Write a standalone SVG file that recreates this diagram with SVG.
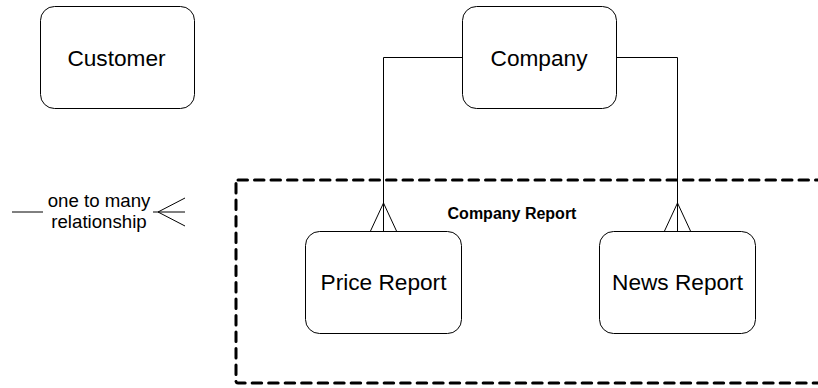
<svg xmlns="http://www.w3.org/2000/svg" width="818" height="388" viewBox="0 0 818 388">
<style>
.box{fill:#fff;stroke:#000;stroke-width:1}
.lbl{font-family:"Liberation Sans",Arial,sans-serif;font-size:22.67px;fill:#000;text-anchor:middle}
.ln{fill:none;stroke:#000;stroke-width:1}
.leg{font-family:"Liberation Sans",Arial,sans-serif;font-size:18.67px;fill:#000;text-anchor:middle}
</style>
<rect width="818" height="388" fill="#fff"/>
<g id="company-report">
<rect x="236" y="180" width="590" height="203" rx="2" fill="none" stroke="#000" stroke-width="3" stroke-dasharray="9.5,7" stroke-linecap="round" stroke-linejoin="round"/>
<text x="512" y="219" font-family="Liberation Sans,Arial,sans-serif" font-size="16" font-weight="bold" text-anchor="middle">Company Report</text>
</g>
<g id="connectors">
<path class="ln" d="M462,57.5 H383.5 V231"/>
<path class="ln" d="M370.5,231 L383.5,203 L396.5,231"/>
<path class="ln" d="M617,57.5 H677.5 V231"/>
<path class="ln" d="M664.5,231 L677.5,203 L690.5,231"/>
</g>
<g id="customer">
<rect class="box" x="40.5" y="6.5" width="154" height="102" rx="14"/>
<text class="lbl" x="116.5" y="65.5">Customer</text>
</g>
<g id="company">
<rect class="box" x="462.5" y="6.5" width="154" height="102" rx="14"/>
<text class="lbl" x="539" y="65.5">Company</text>
</g>
<g id="price-report">
<rect class="box" x="305.5" y="231.5" width="156" height="102" rx="14"/>
<text class="lbl" x="383.5" y="290">Price Report</text>
</g>
<g id="news-report">
<rect class="box" x="599.5" y="231.5" width="156" height="102" rx="14"/>
<text class="lbl" x="677.5" y="290">News Report</text>
</g>
<g id="legend">
<path class="ln" d="M12,212 H43"/>
<text class="leg" x="99" y="207">one to many</text>
<text class="leg" x="99" y="228">relationship</text>
<path class="ln" d="M153,212 H185 M185,198 L158,212 L185,226"/>
</g>
</svg>
